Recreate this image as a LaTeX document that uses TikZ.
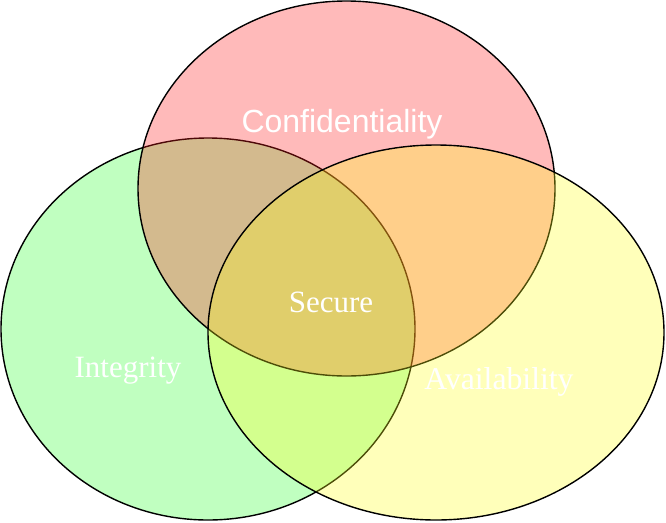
\documentclass[tikz,border=0pt]{standalone}
\usepackage{fontspec}
\setmainfont{Liberation Serif}
\newfontfamily\labelsans{Liberation Sans}
\usetikzlibrary{shapes.geometric}
\definecolor{cgreen}{RGB}{192,255,192}
\definecolor{cpink}{RGB}{255,28,28}
\definecolor{cyellow}{RGB}{255,255,28}
\tikzset{
  setring/.style={ellipse, draw=black, line width=1.4pt, inner sep=0pt},
  setlabel/.style={text=white, anchor=base, inner sep=0pt,
    font=\fontsize{31}{36}\selectfont},
}
\begin{document}
\begin{tikzpicture}[x=1pt, y=-1pt]
  \useasboundingbox (0,0) rectangle (666,522);
  % the three sets, drawn bottom to top
  \node[setring, fill=cgreen, minimum width=414pt, minimum height=382pt]
    (integrity) at (208,329) {};
  \node[setring, fill=cpink, fill opacity=0.3, minimum width=417pt, minimum height=375pt]
    (confidentiality) at (346.5,188.5) {};
  \node[setring, fill=cyellow, fill opacity=0.3, minimum width=456pt, minimum height=375pt]
    (availability) at (436,332.5) {};
  % labels
  \node[setlabel, font=\labelsans\fontsize{32}{36}\selectfont] (lconf) at (342,132) {Confidentiality};
  \node[setlabel] (lsecure) at (331,312) {Secure};
  \node[setlabel] (linteg) at (128,377) {Integrity};
  \node[setlabel, font=\fontsize{31.7}{36}\selectfont] (lavail) at (499,389) {Availability};
\end{tikzpicture}
\end{document}
